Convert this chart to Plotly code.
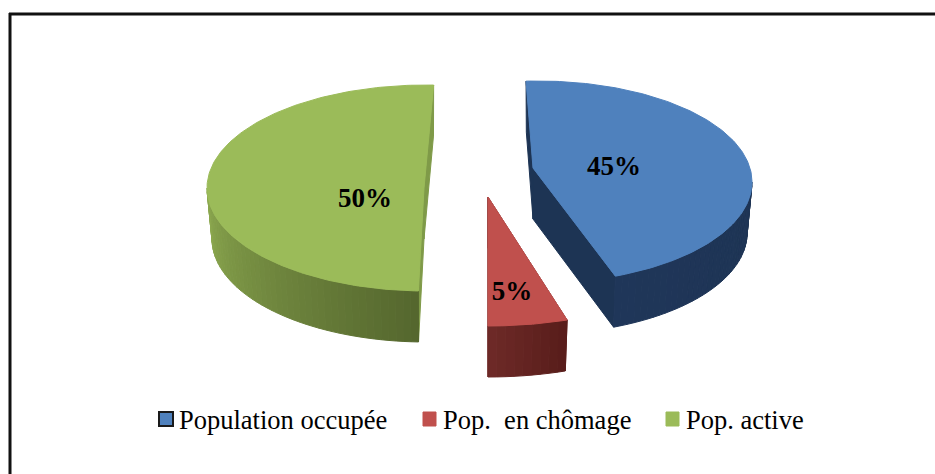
''' Exploded 3D-look pie chart of the population split '''

## Imports
import math
import plotly.graph_objects as go

# Data
labels = ["Population occupée", "Pop.\u00a0 en chômage", "Pop. active"]
values = [45, 5, 50]

# Slice styling
face_colors = ["#4F81BD", "#C0504D", "#9BBB59"]
wall_colors = [["#1F3659", "#1E3454"], ["#6F2B28", "#591D1B"], ["#8DAA50", "#55672E"]]
cut_colors = ["#1D3454", "#6F2B28", "#7F9A48"]

# Slice geometry in page pixels
centers_x = [538, 488, 426]
centers_y = [182, 203, 188]
radii_x = [214, 256, 219]
radii_y = [101, 123, 103]
apex_x = [533, 488, 424]
apex_y = [168, 197, 188]
start_angles = [-3.2, 162, 182]
depth = 51
lower_rim_scale = 0.977

# Legend placement
swatch_x0 = [159, 423, 666]
swatch_x1 = [173, 436, 679]
swatch_y0 = [412, 412, 412]
swatch_y1 = [426, 426, 426]
label_x = [177, 441, 684]
legend_y = 419.5

# Percent label placement
percent_x = [614, 512, 365]
percent_y = [168, 293, 200]


def rim_point(i, angle, lower=False):
    rad = math.radians(angle)
    scale = lower_rim_scale if lower else 1
    x = centers_x[i] + radii_x[i] * scale * math.sin(rad)
    y = centers_y[i] - radii_y[i] * math.cos(rad) + (depth if lower else 0)
    return x, y


def add_polygon(fig, points, color):
    xs, ys = zip(*points)
    fig.add_trace(go.Scatter(
        x=list(xs) + [xs[0]],
        y=list(ys) + [ys[0]],
        mode="lines",
        fill="toself",
        fillcolor=color,
        line=dict(color=color, width=1),
        hoverinfo="skip",
        showlegend=False
    ))


def mix(c1, c2, f):
    a = [int(c1[k:k+2], 16) for k in (1, 3, 5)]
    b = [int(c2[k:k+2], 16) for k in (1, 3, 5)]
    return "#%02X%02X%02X" % tuple(round(p + (q - p) * f) for p, q in zip(a, b))


fig = go.Figure()

# Slices, drawn from the values
total = sum(values)
for i, value in enumerate(values):
    start = start_angles[i]
    end = start + 360 * value / total
    apex = (apex_x[i], apex_y[i])
    apex_low = (apex_x[i], apex_y[i] + depth)

    # Cut walls
    for angle in (start, end):
        add_polygon(fig, [apex, rim_point(i, angle), rim_point(i, angle, True), apex_low], cut_colors[i])

    # Outer wall, only the part that faces the viewer, in thin strips for the shading
    wall_from = max(start, 90) if start < 90 else start
    wall_to = min(end, 270)
    steps = max(2, int((wall_to - wall_from) / 2))
    for s in range(steps):
        a0 = wall_from + (wall_to - wall_from) * s / steps
        a1 = wall_from + (wall_to - wall_from) * (s + 1) / steps
        f = (a0 - wall_from) / (wall_to - wall_from)
        color = mix(wall_colors[i][1], wall_colors[i][0], f)    # Dark at the start of the sweep
        add_polygon(fig, [rim_point(i, a0), rim_point(i, a1), rim_point(i, a1, True), rim_point(i, a0, True)], color)

    # Top face
    count = max(8, int(end - start))
    rim = [rim_point(i, start + (end - start) * k / count) for k in range(count + 1)]
    add_polygon(fig, [apex] + rim, face_colors[i])

# Percent labels
fig.add_trace(go.Scatter(
    x=percent_x,
    y=percent_y,
    mode="text",
    text=[f"<b>{v}%</b>" for v in values],
    textfont=dict(family="Liberation Serif", size=27, color="black"),
    hoverinfo="skip",
    showlegend=False
))

# Legend built by hand so each swatch sits where it does in the original
for i, label in enumerate(labels):
    fig.add_shape(
        type="rect",
        x0=swatch_x0[i], x1=swatch_x1[i],
        y0=swatch_y0[i], y1=swatch_y1[i],
        fillcolor=face_colors[i],
        line=dict(color="#1A1A1A" if i == 0 else face_colors[i], width=2 if i == 0 else 1)
    )
    fig.add_annotation(
        x=label_x[i], y=legend_y,
        text=label,
        showarrow=False,
        xanchor="left",
        yanchor="middle",
        font=dict(family="Liberation Serif", size=26.5, color="black")
    )

# Frame, only the top and left sides show in the original
fig.add_shape(type="line", x0=9, x1=935, y0=14, y1=14, line=dict(color="#111111", width=3))
fig.add_shape(type="line", x0=10, x1=10, y0=13, y1=474, line=dict(color="#111111", width=3))

# Chart layout
fig.update_layout(
    width=935,
    height=474,
    margin=dict(l=0, r=0, t=0, b=0),
    plot_bgcolor="white",
    paper_bgcolor="white",
    showlegend=False,
    xaxis=dict(range=[0, 935], visible=False, fixedrange=True),
    yaxis=dict(range=[474, 0], visible=False, fixedrange=True)
)

fig.write_html(
    "out.html",
    config=dict(displayModeBar=False),
    post_script="document.body.style.margin='0';document.body.style.overflow='hidden';"
)
